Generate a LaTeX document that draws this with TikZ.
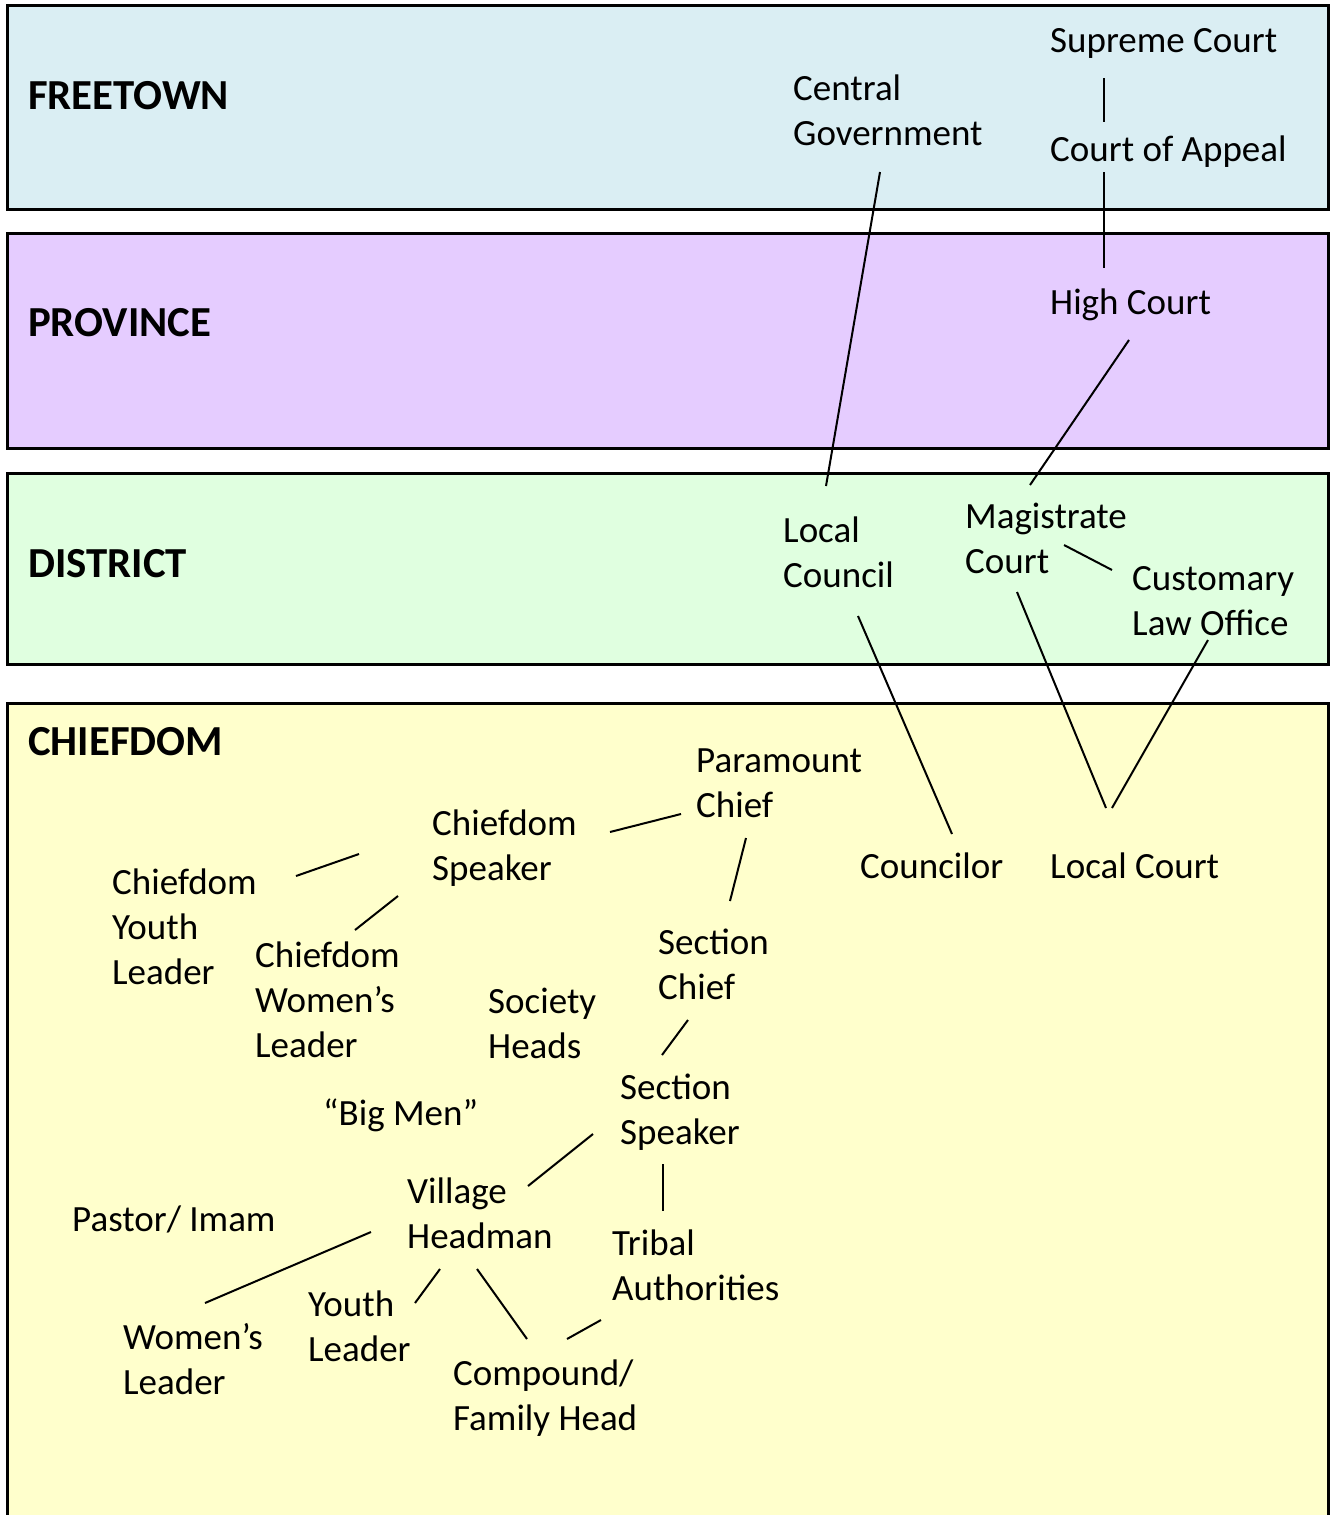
\documentclass[tikz,border=0pt]{standalone}
\usepackage{fontspec}
\setmainfont{Carlito}
\definecolor{cFree}{HTML}{DAEEF3}
\definecolor{cProv}{HTML}{E5CCFF}
\definecolor{cDist}{HTML}{E0FFE0}
\definecolor{cChief}{HTML}{FFFFCC}
\tikzset{
  band/.style={draw=black, line width=3pt},
  lvl/.style={anchor=base west, inner sep=0pt, font=\fontsize{42.8}{50}\selectfont\bfseries},
  lbl/.style={anchor=north west, inner sep=0pt, align=left, font=\fontsize{37}{45}\selectfont, execute at begin node=\strut},
  mlbl/.style={lbl, yshift=-7.5pt},
  link/.style={line width=2pt, draw=black},
}
\begin{document}
\begin{tikzpicture}[x=1pt,y=-1pt]
\useasboundingbox (0,0) rectangle (1330,1515);
\clip (0,0) rectangle (1330,1515);
% bands
\path[band, fill=cFree] (7,5) rectangle (1328,209);
\path[band, fill=cProv] (7,233) rectangle (1328,448);
\path[band, fill=cDist] (7,473) rectangle (1328,664);
\path[band, fill=cChief] (7,703) rectangle (1328,1540);
% level labels
\node[lvl] (lFree) at (28,109) {FREETOWN};
\node[lvl] (lProv) at (28,336) {PROVINCE};
\node[lvl] (lDist) at (28,577) {DISTRICT};
\node[lvl] (lChief) at (28,755) {CHIEFDOM};
% text nodes
\node[lbl] (supreme) at (1050,20.5) {Supreme Court};
\node[mlbl] (central) at (793,67.5) {Central\\Government};
\node[lbl] (appeal) at (1050,129.5) {Court of Appeal};
\node[lbl] (high) at (1050,282.5) {High Court};
\node[mlbl] (localc) at (783,509.5) {Local\\Council};
\node[mlbl] (magis) at (965,495.5) {Magistrate\\Court};
\node[mlbl] (custom) at (1132,558.5) {Customary\\Law Office};
\node[mlbl] (paramount) at (696,741.5) {Paramount\\Chief};
\node[mlbl] (cspeaker) at (432,802.5) {Chiefdom\\Speaker};
\node[lbl] (councilor) at (860,846.5) {Councilor};
\node[lbl] (localcourt) at (1050,846.5) {Local Court};
\node[mlbl] (cyouth) at (112,861.5) {Chiefdom\\Youth\\Leader};
\node[mlbl] (schief) at (658,921.5) {Section\\Chief};
\node[mlbl] (cwomen) at (255,934.5) {Chiefdom\\Women’s\\Leader};
\node[mlbl] (society) at (488,980.5) {Society\\Heads};
\node[mlbl] (sspeaker) at (620,1066.5) {Section\\Speaker};
\node[lbl] (bigmen) at (323,1093.5) {“Big Men”};
\node[mlbl] (village) at (407,1170.5) {Village\\Headman};
\node[lbl] (pastor) at (72,1199.5) {Pastor/ Imam};
\node[mlbl] (tribal) at (612,1222.5) {Tribal\\Authorities};
\node[mlbl] (youth) at (308,1283.5) {Youth\\Leader};
\node[mlbl] (women) at (123,1315.5) {Women’s\\Leader};
\node[mlbl] (compound) at (453,1352.5) {Compound/\\Family Head};
% connector end points
\coordinate (supremeS) at (1104,78);   \coordinate (appealN) at (1104,122);
\coordinate (appealS) at (1104,172);   \coordinate (highN) at (1104,268);
\coordinate (centralS) at (880,172);   \coordinate (localcN) at (826,486);
\coordinate (highS) at (1129,340);     \coordinate (magisN) at (1030,485);
\coordinate (magisE) at (1064,545);    \coordinate (customW) at (1112,570);
\coordinate (localcS) at (858,616);    \coordinate (councilorN) at (952,834);
\coordinate (magisS) at (1017,592);    \coordinate (localcourtNa) at (1106,808);
\coordinate (customS) at (1208,640);   \coordinate (localcourtNb) at (1112,808);
\coordinate (cspeakerE) at (610,832);  \coordinate (paramountW) at (681,814);
\coordinate (paramountS) at (746,838); \coordinate (schiefN) at (730,901);
\coordinate (cyouthE) at (296,876);    \coordinate (cspeakerW) at (359,854);
\coordinate (cspeakerSW) at (398,896); \coordinate (cwomenN) at (355,930);
\coordinate (schiefS) at (688,1020);   \coordinate (sspeakerN) at (662,1055);
\coordinate (sspeakerW) at (593,1134); \coordinate (villageNE) at (528,1186);
\coordinate (sspeakerS) at (663,1164); \coordinate (tribalN) at (663,1211);
\coordinate (villageW) at (371,1232);  \coordinate (womenN) at (205,1303);
\coordinate (villageSW) at (440,1269); \coordinate (youthNE) at (415,1303);
\coordinate (villageS) at (477,1269);  \coordinate (compoundNa) at (527,1339);
\coordinate (tribalSW) at (601,1320);  \coordinate (compoundNb) at (567,1339);
% connectors
\draw[link] (supremeS) -- (appealN);
\draw[link] (appealS) -- (highN);
\draw[link] (centralS) -- (localcN);
\draw[link] (highS) -- (magisN);
\draw[link] (magisE) -- (customW);
\draw[link] (localcS) -- (councilorN);
\draw[link] (magisS) -- (localcourtNa);
\draw[link] (customS) -- (localcourtNb);
\draw[link] (cspeakerE) -- (paramountW);
\draw[link] (paramountS) -- (schiefN);
\draw[link] (cyouthE) -- (cspeakerW);
\draw[link] (cspeakerSW) -- (cwomenN);
\draw[link] (schiefS) -- (sspeakerN);
\draw[link] (sspeakerW) -- (villageNE);
\draw[link] (sspeakerS) -- (tribalN);
\draw[link] (villageW) -- (womenN);
\draw[link] (villageSW) -- (youthNE);
\draw[link] (villageS) -- (compoundNa);
\draw[link] (tribalSW) -- (compoundNb);
\end{tikzpicture}
\end{document}
